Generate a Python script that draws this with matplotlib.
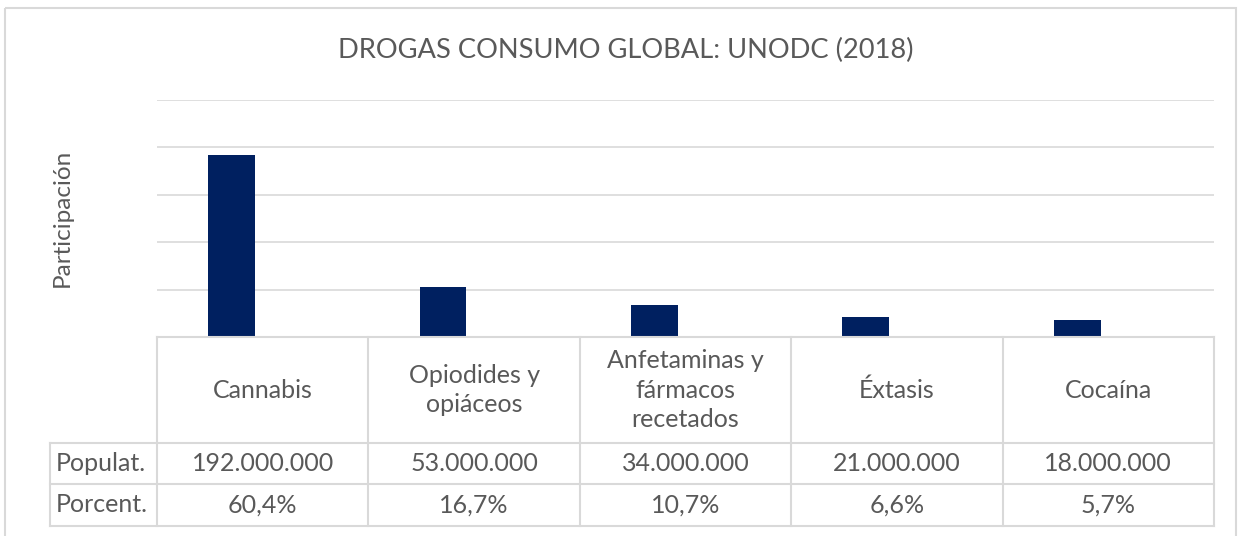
import matplotlib.pyplot as plt
from matplotlib.patches import Rectangle
import numpy as np

plt.rcParams['font.family'] = ['Lato', 'DejaVu Sans']

categories = ['Cannabis', 'Opiodides y\nopiáceos', 'Anfetaminas y\nfármacos\nrecetados', 'Éxtasis', 'Cocaína']
population = [192000000, 53000000, 34000000, 21000000, 18000000]
percent = [60.4, 16.7, 10.7, 6.6, 5.7]
pop_labels = ['192.000.000', '53.000.000', '34.000.000', '21.000.000', '18.000.000']
pct_labels = ['60,4%', '16,7%', '10,7%', '6,6%', '5,7%']
row_labels = ['Populat.', 'Porcent.']

W, H = 1241, 536
text_color = '#595959'
grid_color = '#d9d9d9'
bar_color = '#002060'

fig = plt.figure(figsize=(W / 100, H / 100), dpi=100)

# plot area in pixels
px_left, px_right, px_top, px_bottom = 157, 1214, 100, 337
ax = fig.add_axes([px_left / W, 1 - px_bottom / H, (px_right - px_left) / W, (px_bottom - px_top) / H])
x = np.arange(len(categories)) + 0.5
bar_w = 0.222
ax.bar(x - 0.147, population, width=bar_w, color=bar_color, zorder=3)
# second series (percent) is tiny on this scale
ax.bar(x + 0.147, percent, width=bar_w, color='#5b9bd5', zorder=3)
ax.set_xlim(0, len(categories))
ax.set_ylim(0, 250000000)
ax.set_yticks(np.arange(0, 250000001, 50000000))
ax.grid(axis='y', color=grid_color, linewidth=1.2)
ax.set_axisbelow(True)
ax.tick_params(left=False, bottom=False, labelleft=False, labelbottom=False)
for s in ax.spines.values():
    s.set_visible(False)

# overlay for table, title, border
ov = fig.add_axes([0, 0, 1, 1])
ov.set_xlim(0, W)
ov.set_ylim(H, 0)
ov.axis('off')
ov.patch.set_alpha(0)

ov.add_patch(Rectangle((5, 8), 1231, 540, fill=False, edgecolor=grid_color, linewidth=1.5, clip_on=False))
ov.text(626, 50, 'DROGAS CONSUMO GLOBAL: UNODC (2018)', ha='center', va='center',
        fontsize=19.6, color=text_color)
ov.text(62, 218, 'Participación', rotation=90, ha='center', va='center', fontsize=17.5, color=text_color)

col_w = (px_right - px_left) / len(categories)
row_y = [337, 443, 484, 526]
lw = 1.5
# horizontal lines
ov.plot([px_left, px_right], [row_y[0], row_y[0]], color=grid_color, lw=lw)
for yy in row_y[1:]:
    ov.plot([50, px_right], [yy, yy], color=grid_color, lw=lw)
# vertical lines
ov.plot([50, 50], [row_y[1], row_y[3]], color=grid_color, lw=lw)
for i in range(len(categories) + 1):
    xx = px_left + i * col_w
    ov.plot([xx, xx], [row_y[0], row_y[3]], color=grid_color, lw=lw)

fs = 18
for i, cat in enumerate(categories):
    cx = px_left + (i + 0.5) * col_w
    ov.text(cx, (row_y[0] + row_y[1]) / 2, cat, ha='center', va='center', fontsize=fs,
            color=text_color, linespacing=1.35)
    ov.text(cx, (row_y[1] + row_y[2]) / 2, pop_labels[i], ha='center', va='center', fontsize=fs, color=text_color)
    ov.text(cx, (row_y[2] + row_y[3]) / 2, pct_labels[i], ha='center', va='center', fontsize=fs, color=text_color)
for j, lab in enumerate(row_labels):
    ov.text(56, (row_y[j + 1] + row_y[j + 2]) / 2, lab, ha='left', va='center', fontsize=fs, color=text_color)

fig.savefig('out.png', dpi=100)
